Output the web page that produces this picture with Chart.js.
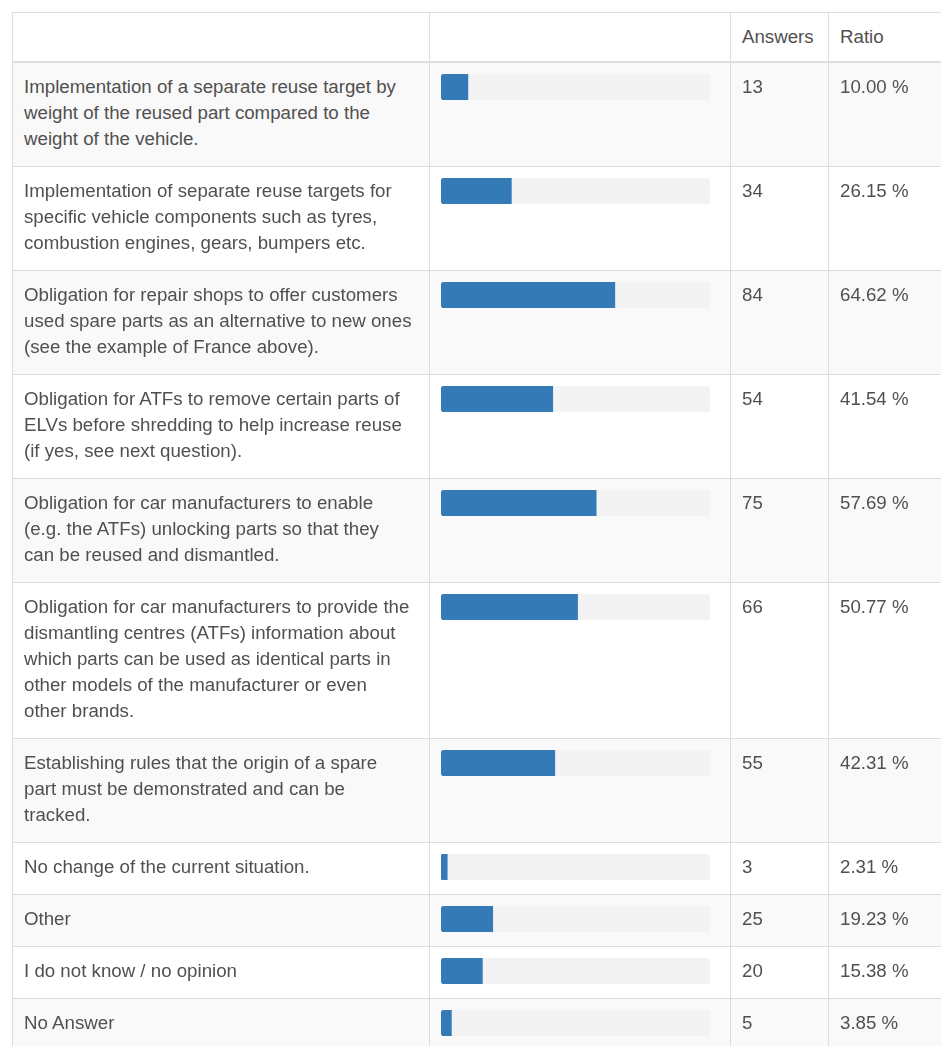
<!DOCTYPE html>
<html>
<head>
<meta charset="utf-8">
<script src="https://cdn.jsdelivr.net/npm/chart.js@4/dist/chart.umd.min.js"></script>
<style>
  html, body { margin: 0; padding: 0; background: #fff; overflow: hidden; }
  body { font-family: "Liberation Sans", Arial, sans-serif; font-size: 18.7px; line-height: 26px; color: #505050; }
  table { position: absolute; left: 12px; top: 12px; width: 940px; border-collapse: collapse; table-layout: fixed; }
  th, td { border: 1px solid #ddd; padding: 11px 11px 14px 11px; vertical-align: top; text-align: left; white-space: nowrap; }
  th { font-weight: normal; height: 24px; vertical-align: middle; padding-top: 11px; padding-bottom: 11px; }
  thead tr th { border-bottom: 2px solid #ddd; }
  tbody tr:nth-child(odd) { background: #f9f9f9; }
  td.bar { padding-left: 11px; padding-right: 20px; }
  canvas { display: block; }
</style>
</head>
<body>
<table id="tbl">
  <colgroup>
    <col style="width:417px"><col style="width:301px"><col style="width:98px"><col style="width:124px">
  </colgroup>
  <thead><tr id="head"></tr></thead>
  <tbody id="body"></tbody>
</table>
<script>
// Survey options (each entry is the wrapped lines of one answer)
const categories = [
  ["Implementation of a separate reuse target by", "weight of the reused part compared to the", "weight of the vehicle."],
  ["Implementation of separate reuse targets for", "specific vehicle components such as tyres,", "combustion engines, gears, bumpers etc."],
  ["Obligation for repair shops to offer customers", "used spare parts as an alternative to new ones", "(see the example of France above)."],
  ["Obligation for ATFs to remove certain parts of", "ELVs before shredding to help increase reuse", "(if yes, see next question)."],
  ["Obligation for car manufacturers to enable", "(e.g. the ATFs) unlocking parts so that they", "can be reused and dismantled."],
  ["Obligation for car manufacturers to provide the", "dismantling centres (ATFs) information about", "which parts can be used as identical parts in", "other models of the manufacturer or even", "other brands."],
  ["Establishing rules that the origin of a spare", "part must be demonstrated and can be", "tracked."],
  ["No change of the current situation."],
  ["Other"],
  ["I do not know / no opinion"],
  ["No Answer"]
];
const answers = [13, 34, 84, 54, 75, 66, 55, 3, 25, 20, 5];
const ratios = [10.00, 26.15, 64.62, 41.54, 57.69, 50.77, 42.31, 2.31, 19.23, 15.38, 3.85];
const headers = ["", "", "Answers", "Ratio"];

const head = document.getElementById("head");
headers.forEach(h => {
  const th = document.createElement("th");
  th.textContent = h;
  head.appendChild(th);
});

const body = document.getElementById("body");
categories.forEach((lines, i) => {
  const tr = document.createElement("tr");

  const tdText = document.createElement("td");
  tdText.innerHTML = lines.join("<br>");
  tr.appendChild(tdText);

  const tdBar = document.createElement("td");
  tdBar.className = "bar";
  const cv = document.createElement("canvas");
  cv.width = 269;
  cv.height = 26;
  tdBar.appendChild(cv);
  tr.appendChild(tdBar);

  const tdAns = document.createElement("td");
  tdAns.textContent = answers[i];
  tr.appendChild(tdAns);

  const tdRatio = document.createElement("td");
  tdRatio.textContent = ratios[i].toFixed(2) + " %";
  tr.appendChild(tdRatio);

  body.appendChild(tr);

  new Chart(cv, {
    type: "bar",
    data: {
      labels: [""],
      datasets: [
        {
          data: [ratios[i]],
          backgroundColor: "#337ab7",
          borderRadius: { topLeft: 4, bottomLeft: 4, topRight: 0, bottomRight: 0 },
          borderSkipped: false,
          order: 0
        },
        {
          data: [100],
          backgroundColor: "#f3f3f3",
          borderRadius: 4,
          borderSkipped: false,
          order: 1
        }
      ]
    },
    options: {
      indexAxis: "y",
      responsive: false,
      animation: false,
      events: [],
      datasets: { bar: { grouped: false, barPercentage: 1, categoryPercentage: 1 } },
      layout: { padding: 0 },
      scales: {
        x: { display: false, min: 0, max: 100 },
        y: { display: false }
      },
      plugins: { legend: { display: false }, tooltip: { enabled: false } }
    }
  });
});
</script>
</body>
</html>
